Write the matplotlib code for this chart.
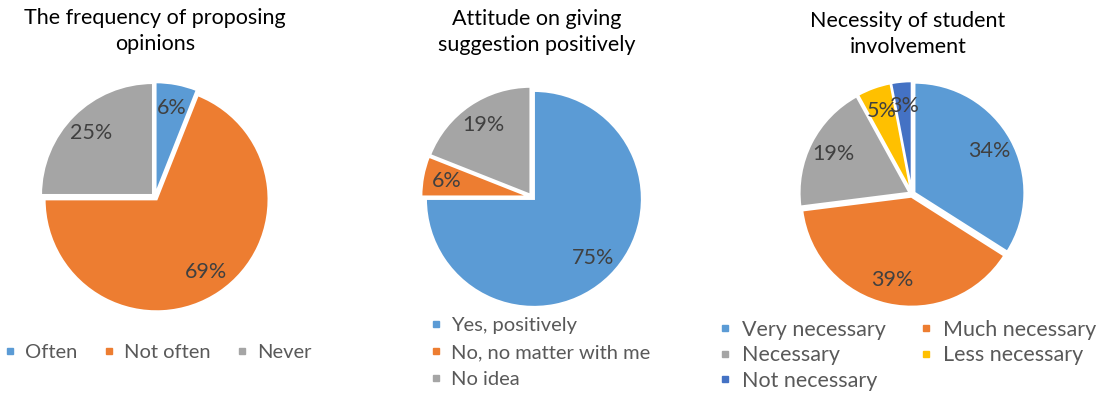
import matplotlib
matplotlib.use("Agg")
import matplotlib.pyplot as plt
from matplotlib.lines import Line2D

plt.rcParams['font.family'] = ['Lato', 'DejaVu Sans']

W, H = 1120, 394

blue, orange, gray = '#5B9BD5', '#ED7D31', '#A5A5A5'
yellow, dblue = '#FFC000', '#4472C4'

freq_labels = ['Often', 'Not often', 'Never']
freq_values = [6, 69, 25]

attitude_labels = ['Yes, positively', 'No, no matter with me', 'No idea']
attitude_values = [75, 6, 19]

need_labels = ['Very necessary', 'Much necessary', 'Necessary',
               'Less necessary', 'Not necessary']
need_values = [34, 39, 19, 5, 3]

fig = plt.figure(figsize=(W / 100, H / 100), dpi=100)


def pie_axes(cx, cy, r):
    # square axes in pixel units, limits +-1.2 so radius 1 -> r px
    s = 1.2 * r
    ax = fig.add_axes([(cx - s) / W, 1 - (cy + s) / H, 2 * s / W, 2 * s / H])
    ax.axis('off')
    return ax


def draw_pie(ax, values, colors, pctd=0.78):
    ax.pie(values, colors=colors, startangle=90, counterclock=False,
           explode=[0.025] * len(values), autopct='%d%%', pctdistance=pctd,
           wedgeprops=dict(edgecolor='white', linewidth=1.5),
           textprops=dict(color='#404040', fontsize=15.5))
    ax.set_xlim(-1.2, 1.2)
    ax.set_ylim(-1.2, 1.2)
    ax.set_aspect('equal')


def title(x, y, txt):
    fig.text(x / W, 1 - y / H, txt, ha='center', va='center',
             fontsize=15.5, color='black', linespacing=1.35)


def handles(colors, labels):
    return [Line2D([], [], marker='s', linestyle='', color=c, markersize=5,
                   label=l) for c, l in zip(colors, labels)]


leg_kw = dict(frameon=False, fontsize=14.5, labelcolor='#595959',
              handlelength=0.6, handletextpad=0.45, borderaxespad=0,
              borderpad=0)

# pie 1
ax1 = pie_axes(155, 197, 112)
draw_pie(ax1, freq_values, [blue, orange, gray])
title(155, 31, 'The frequency of proposing\nopinions')
fig.legend(handles=handles([blue, orange, gray], freq_labels), ncol=3,
           loc='center left', bbox_to_anchor=(4 / W, 1 - 352 / H),
           columnspacing=1.25, **leg_kw)

# pie 2
ax2 = pie_axes(532, 197, 108)
draw_pie(ax2, attitude_values, [blue, orange, gray])
title(537, 32, 'Attitude on giving\nsuggestion positively')
fig.legend(handles=handles([blue, orange, gray], attitude_labels), ncol=1,
           loc='upper left', bbox_to_anchor=(430 / W, 1 - 317 / H),
           labelspacing=0.5, **leg_kw)

# pie 3, legend filled row by row
ax3 = pie_axes(912, 194, 110)
need_colors = [blue, orange, gray, yellow, dblue]
draw_pie(ax3, need_values, need_colors)
title(908, 34, 'Necessity of student\ninvolvement')
h3 = handles(need_colors, need_labels)
leg3_kw = dict(leg_kw, fontsize=15.5)
fig.legend(handles=[h3[0], h3[2], h3[4], h3[1], h3[3]],
           ncol=2, loc='upper left', bbox_to_anchor=(719 / W, 1 - 320 / H),
           labelspacing=0.25, columnspacing=1.6, **leg3_kw)

fig.savefig('out.png', dpi=100, facecolor='white')
